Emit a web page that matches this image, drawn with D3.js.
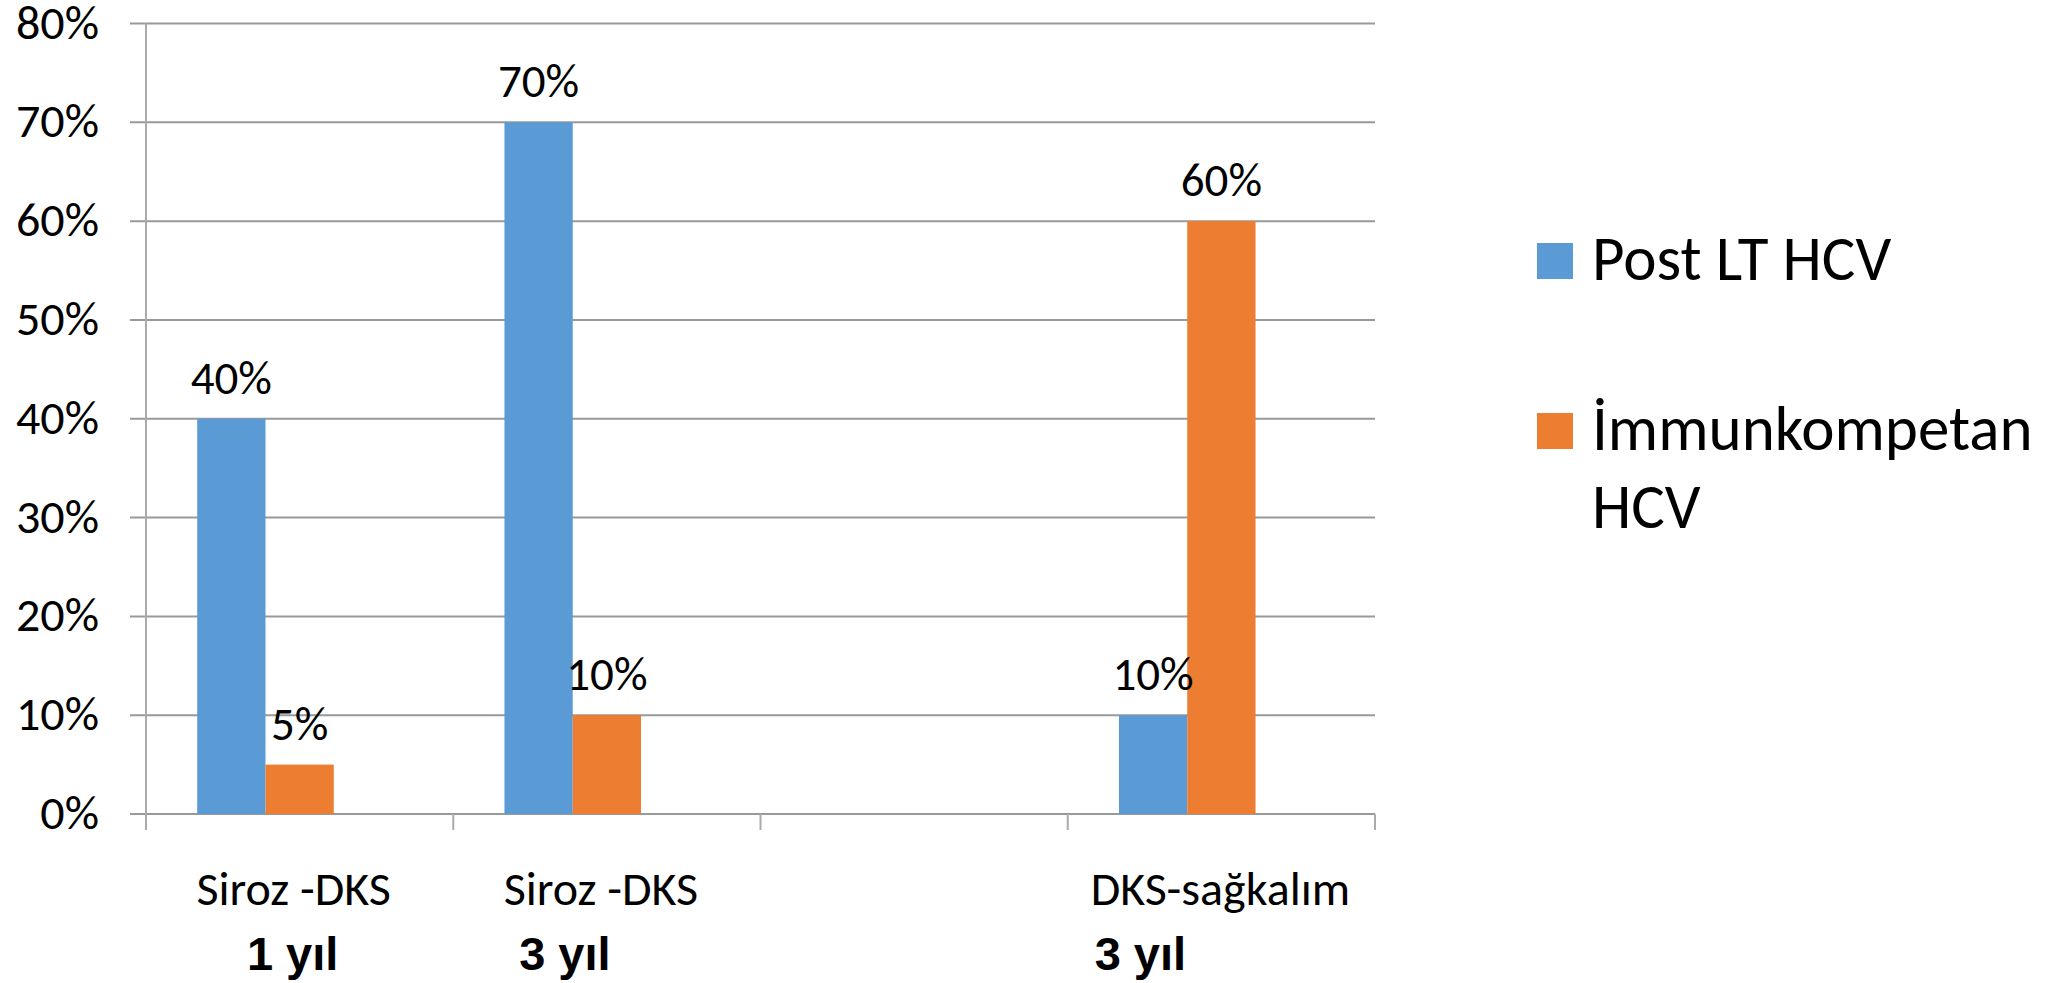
<!DOCTYPE html>
<html>
<head>
<meta charset="utf-8">
<script src="https://cdn.jsdelivr.net/npm/d3@7"></script>
<style>
  html, body { margin: 0; padding: 0; background: #ffffff; }
  svg { display: block; }
</style>
</head>
<body>
<svg id="chart" width="2052" height="983"></svg>
<script>
// Category slots on the x axis (third slot is intentionally empty)
const categories = ["Siroz -DKS", "Siroz -DKS", "", "DKS-sağkalım"];
const periods = ["1 yıl", "3 yıl", "", "3 yıl"];

// Series (the third slot keeps the Excel-style group spacing, no values)
const seriesNames = ["Post LT HCV", "İmmunkompetan HCV", "Seri 3"];
const postLT = [0.40, 0.70, null, 0.10];
const immunokompetan = [0.05, 0.10, null, 0.60];
const seri3 = [null, null, null, null];
const seriesValues = [postLT, immunokompetan, seri3];
const seriesColors = ["#5B9BD5", "#ED7D31", "#A5A5A5"];

// Y axis ticks
const yTicks = [0, 0.1, 0.2, 0.3, 0.4, 0.5, 0.6, 0.7, 0.8];

// Layout
const plot = { left: 146, right: 1375, top: 23.5, bottom: 814 };
const labelShift = [-6, -6, 0, -1];      // category label nudge, px from slot centre
const periodShift = [-7, -42, 0, -81];   // bold second line nudge, px from slot centre
const calibri = "Carlito, Calibri, Lato, sans-serif";

const svg = d3.select("#chart");

const x = d3.scaleBand()
  .domain(d3.range(categories.length))
  .range([plot.left, plot.right])
  .paddingInner(0)
  .paddingOuter(0);

// bars take 3/(3+1.5) of each slot (gap width 150%)
const groupWidth = x.bandwidth() * 3 / 4.5;
const xs = d3.scaleBand()
  .domain(d3.range(seriesNames.length))
  .range([-groupWidth / 2, groupWidth / 2]);

const y = d3.scaleLinear().domain([0, 0.8]).range([plot.bottom, plot.top]);

const pct = d3.format(".0%");

// horizontal gridlines (include top and the 0% line)
svg.append("g")
  .selectAll("line")
  .data(yTicks)
  .join("line")
  .attr("x1", plot.left - 16)
  .attr("x2", plot.right)
  .attr("y1", d => y(d))
  .attr("y2", d => y(d))
  .attr("stroke", "#999999")
  .attr("stroke-width", 2);

// y axis line
svg.append("line")
  .attr("x1", plot.left).attr("x2", plot.left)
  .attr("y1", plot.top).attr("y2", plot.bottom + 16)
  .attr("stroke", "#ababab").attr("stroke-width", 2);

// category boundary ticks
const bounds = d3.range(1, categories.length + 1).map(i => i < categories.length ? x(i) : plot.right);
svg.append("g")
  .selectAll("line")
  .data(bounds)
  .join("line")
  .attr("x1", d => d).attr("x2", d => d)
  .attr("y1", plot.bottom).attr("y2", plot.bottom + 16)
  .attr("stroke", "#ababab").attr("stroke-width", 2);

// y tick labels
svg.append("g")
  .selectAll("text")
  .data(yTicks)
  .join("text")
  .attr("x", 99)
  .attr("y", d => y(d) + 15)
  .attr("text-anchor", "end")
  .attr("font-family", calibri)
  .attr("font-size", 48)
  .attr("fill", "#000")
  .text(d => pct(d));

// bars
const barData = [];
seriesValues.forEach((vals, s) => {
  vals.forEach((v, c) => { if (v != null) barData.push({ s, c, v }); });
});

svg.append("g")
  .selectAll("rect")
  .data(barData)
  .join("rect")
  .attr("x", d => x(d.c) + x.bandwidth() / 2 + xs(d.s))
  .attr("width", xs.bandwidth())
  .attr("y", d => y(d.v))
  .attr("height", d => y(0) - y(d.v))
  .attr("fill", d => seriesColors[d.s]);

// value labels
svg.append("g")
  .selectAll("text")
  .data(barData)
  .join("text")
  .attr("x", d => x(d.c) + x.bandwidth() / 2 + xs(d.s) + xs.bandwidth() / 2)
  .attr("y", d => y(d.v) - 25)
  .attr("text-anchor", "middle")
  .attr("font-family", calibri)
  .attr("font-size", 47)
  .attr("fill", "#000")
  .text(d => pct(d.v));

// category labels
svg.append("g")
  .selectAll("text")
  .data(categories)
  .join("text")
  .attr("x", (d, i) => x(i) + x.bandwidth() / 2 + labelShift[i])
  .attr("y", 905)
  .attr("text-anchor", "middle")
  .attr("font-family", calibri)
  .attr("font-size", 48)
  .attr("fill", "#000")
  .text(d => d);

// bold period labels
svg.append("g")
  .selectAll("text")
  .data(periods)
  .join("text")
  .attr("x", (d, i) => x(i) + x.bandwidth() / 2 + periodShift[i])
  .attr("y", 970)
  .attr("text-anchor", "middle")
  .attr("font-family", "'Liberation Sans', Arial, sans-serif")
  .attr("font-weight", "bold")
  .attr("font-size", 47)
  .attr("fill", "#000")
  .text(d => d);

// legend
const legend = svg.append("g").attr("font-family", calibri).attr("font-size", 63).attr("fill", "#000");
const legendItems = [
  { s: 0, lines: ["Post LT HCV"], top: 243 },
  { s: 1, lines: ["İmmunkompetan", "HCV"], top: 413 }
];
legendItems.forEach(item => {
  legend.append("rect")
    .attr("x", 1537).attr("y", item.top)
    .attr("width", 36).attr("height", 36)
    .attr("fill", seriesColors[item.s]);
  item.lines.forEach((ln, k) => {
    legend.append("text")
      .attr("x", 1592)
      .attr("y", item.top + 37 + k * 78)
      .text(ln);
  });
});
</script>
</body>
</html>
